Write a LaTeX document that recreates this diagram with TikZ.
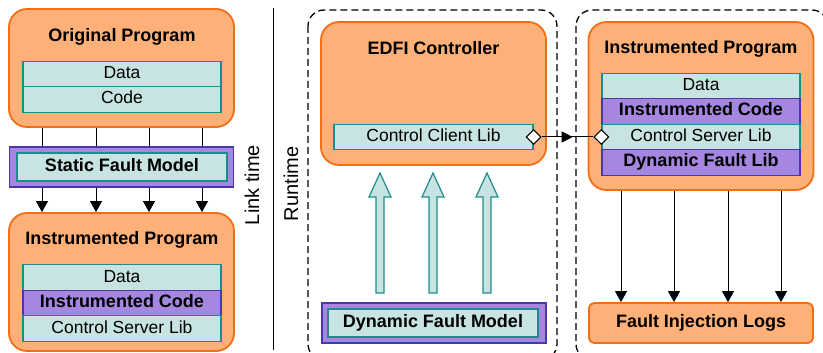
\documentclass[tikz,border=0pt]{standalone}
\usepackage{fontspec}
\setmainfont{Liberation Sans}
\usetikzlibrary{arrows.meta,shapes.geometric,decorations.markings}
\definecolor{orfill}{RGB}{253,176,120}
\definecolor{ordraw}{RGB}{245,110,20}
\definecolor{tlfill}{RGB}{200,228,226}
\definecolor{tldraw}{RGB}{30,140,140}
\definecolor{ppfill}{RGB}{165,135,225}
\definecolor{ppdraw}{RGB}{75,55,165}
\begin{document}
\begin{tikzpicture}[x=1pt,y=-1pt,
  prog/.style={draw=ordraw,fill=orfill,line width=1.8pt,rounded corners=18pt,minimum width=225pt,inner sep=0pt},
  title/.style={font=\fontsize{18}{20}\selectfont\bfseries},
  row/.style={draw=tldraw,fill=tlfill,line width=1.2pt,minimum width=198pt,minimum height=25.5pt,inner sep=0pt,
    text height=12.5pt,text depth=3.5pt,font=\fontsize{17.5}{20}\selectfont},
  prow/.style={row,draw=ppdraw,fill=ppfill,font=\fontsize{18}{20}\selectfont\bfseries},
  model/.style={draw=ppdraw,fill=ppfill,line width=1.2pt,minimum width=224pt,minimum height=40pt,inner sep=0pt},
  modeltxt/.style={row,minimum width=210pt,minimum height=28pt,font=\fontsize{18}{20}\selectfont\bfseries},
  dbox/.style={draw,line width=1.3pt,dash pattern=on 7pt off 4pt,rounded corners=16pt},
  fatarrow/.style={draw=tldraw,fill=tlfill,line width=1.2pt},
  dmd/.style={draw,fill=white,diamond,line width=1pt,minimum width=15pt,minimum height=15pt,inner sep=0pt},
  tip/.style={line width=0.9pt,-{Triangle[length=11pt,width=12pt]}},
  side/.style={rotate=90,font=\fontsize{20}{22}\selectfont}]
\useasboundingbox (0,0) rectangle (823,353);
\draw[dbox] (308,10) rectangle (557,360);
\draw[dbox] (576,10) rectangle (828,360);
\node[prog,minimum height=118pt] (orig) at (121.5,68) {};
\node[title] (origt) at (122,37) {Original Program};
\node[row] (d1) at (122,74) {Data};
\node[row] (c1) at (122,99.5) {Code};
\node[model] (sfm) at (121.5,167) {};
\node[modeltxt] (sfmt) at (122,167) {Static Fault Model};
\node[prog,minimum height=138pt] (ip1) at (121.5,282) {};
\node[title] (ip1t) at (122,240) {Instrumented Program};
\node[row] (d2) at (122,277.5) {Data};
\node[prow] (ic2) at (122,303) {Instrumented Code};
\node[row] (cs2) at (122,328.5) {Control Server Lib};
\foreach \x in {42,96,149,202} \path[draw,line width=0.9pt] (orig.south -| \x,0) -- (sfm.north -| \x,0);
\foreach \x in {42,96,149,202} \path[draw,tip] (sfm.south -| \x,0) -- (ip1.north -| \x,0);
\draw[line width=1pt] (273,8) -- (273,350);
\node[side] (lt) at (252,185) {Link time};
\node[side] (rt) at (291,184) {Runtime};
\node[prog,minimum height=143pt] (edfi) at (433.5,93.5) {};
\node[title] (edfit) at (433.5,48) {EDFI Controller};
\node[row,minimum width=199pt] (ccl) at (433.5,137) {Control Client Lib};
\foreach \x in {380,433,487} \draw[fatarrow] (\x-4,293) -- (\x-4,197) -- (\x-11,197) -- (\x,173) -- (\x+11,197) -- (\x+4,197) -- (\x+4,293) -- cycle;
\node[model] (dfm) at (434,323) {};
\node[modeltxt] (dfmt) at (433,323) {Dynamic Fault Model};
\node[prog,minimum height=168pt] (ip2) at (701,106) {};
\node[title] (ip2t) at (701,49) {Instrumented Program};
\node[row] (d3) at (701,86) {Data};
\node[prow] (ic3) at (701,111.5) {Instrumented Code};
\node[row] (cs3) at (701,137) {Control Server Lib};
\node[prow] (df3) at (701,162.5) {Dynamic Fault Lib};
\node[draw=ordraw,fill=orfill,line width=1.8pt,rounded corners=5pt,minimum width=224pt,minimum height=40pt,inner sep=0pt,title] (logs) at (701,323) {Fault Injection Logs};
\foreach \x in {621,674,728,781} \path[draw,tip] (ip2.south -| \x,0) -- (logs.north -| \x,0);
\node[dmd] (dl) at (ccl.east) {};
\node[dmd] (dr) at (cs3.west) {};
\path[draw,line width=1pt,postaction=decorate,decoration={markings,mark=at position 0.6 with {\arrow{Triangle[length=11pt,width=11pt]}}}] (dl) -- (dr);
\end{tikzpicture}
\end{document}
